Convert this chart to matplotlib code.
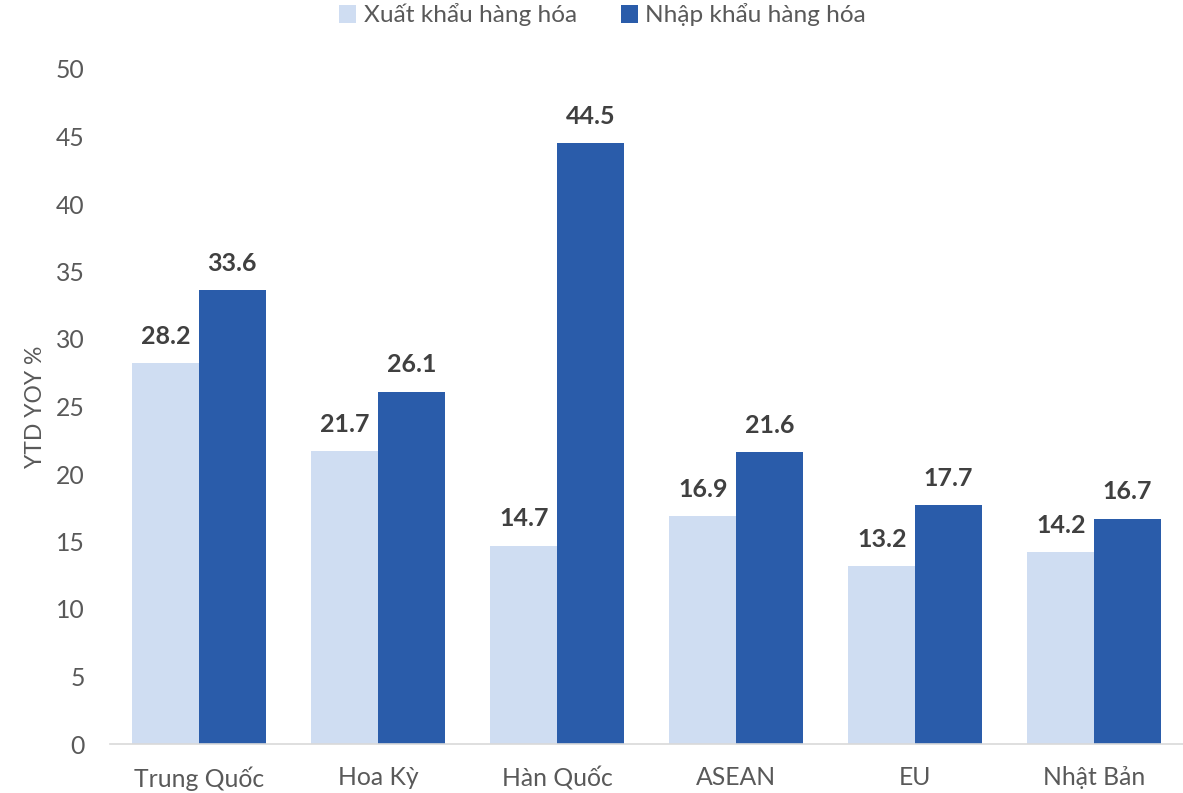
import matplotlib
matplotlib.use("Agg")
import matplotlib.pyplot as plt
import numpy as np

plt.rcParams['font.family'] = ['Lato', 'Open Sans', 'DejaVu Sans']

categories = ["Trung Quốc", "Hoa Kỳ", "Hàn Quốc", "ASEAN", "EU", "Nhật Bản"]
exports = [28.2, 21.7, 14.7, 16.9, 13.2, 14.2]
imports = [33.6, 26.1, 44.5, 21.6, 17.7, 16.7]
series_names = ["Xuất khẩu hàng hóa", "Nhập khẩu hàng hóa"]
yticks = [0, 5, 10, 15, 20, 25, 30, 35, 40, 45, 50]

c_light = "#CFDDF2"
c_dark = "#2A5CAA"

fig = plt.figure(figsize=(11.83, 7.93), dpi=100)
ax = fig.add_axes([109.5/1183, 1-744/793, 1074/1183, (744-69)/793])

x = np.arange(len(categories))
w = 0.372
b1 = ax.bar(x - w/2, exports, w, color=c_light, label=series_names[0])
b2 = ax.bar(x + w/2, imports, w, color=c_dark, label=series_names[1])

for bars, vals in ((b1, exports), (b2, imports)):
    for r, v in zip(bars, vals):
        ax.annotate(f"{v:.1f}", (r.get_x() + r.get_width()/2, v), xytext=(0, 11),
                    textcoords="offset points", ha="center", va="bottom",
                    fontsize=18, fontweight="bold", color="#404040")

ax.set_xlim(-0.5, len(categories) - 0.5)
ax.set_ylim(0, 50)
ax.set_yticks(yticks)
ax.set_xticks(x)
ax.set_xticklabels(categories)
ax.tick_params(axis='both', length=0, labelsize=17.8, labelcolor="#595959")
ax.tick_params(axis='x', pad=16)
ax.tick_params(axis='y', pad=18)
for s in ("top", "right", "left"):
    ax.spines[s].set_visible(False)
ax.spines["bottom"].set_color("#D9D9D9")
ax.spines["bottom"].set_linewidth(1.2)
ax.set_ylabel("YTD YOY %", fontsize=16.5, color="#595959", labelpad=7)

ax.legend(loc="center", bbox_to_anchor=(0.5 - 44/1074, 1 + 54/675), ncol=2, frameon=False,
          fontsize=17.6, labelcolor="#595959", handlelength=0.7, handleheight=0.7,
          handletextpad=0.3, columnspacing=1.8)

fig.savefig("out.png", dpi=100)
